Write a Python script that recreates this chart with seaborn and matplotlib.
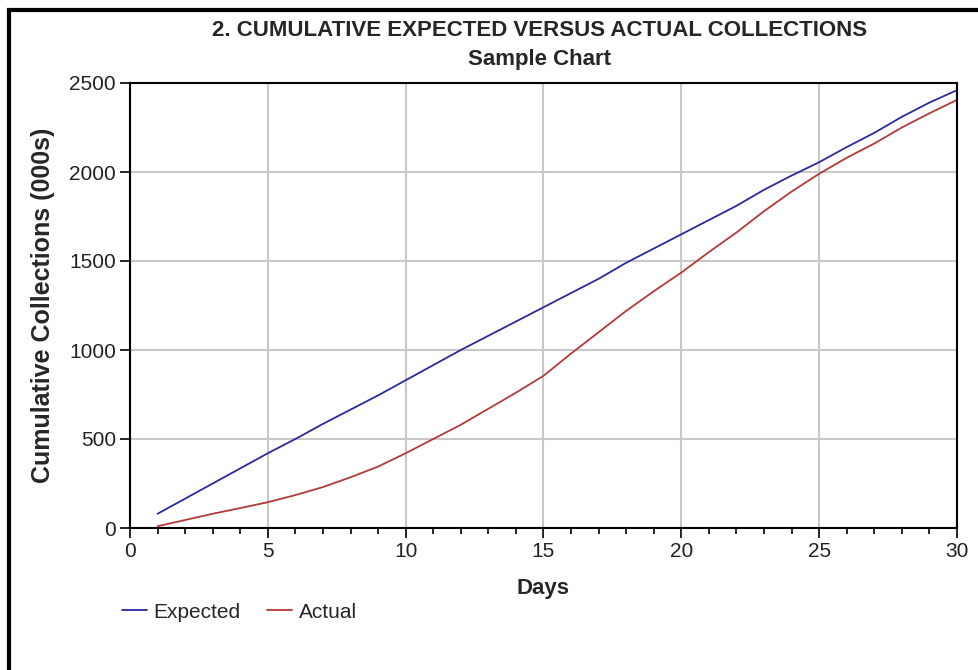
import numpy as np
import pandas as pd
import seaborn as sns
import matplotlib.pyplot as plt
from matplotlib.patches import Rectangle
from matplotlib.ticker import MultipleLocator

# Datos (miles)
days = list(range(1, 31))
expected = [80, 165, 250, 335, 420, 500, 585, 665, 745, 830,
            915, 1000, 1080, 1160, 1240, 1320, 1400, 1490, 1570, 1650,
            1730, 1810, 1900, 1980, 2055, 2140, 2220, 2310, 2390, 2460]
actual = [10, 45, 80, 112, 145, 185, 230, 285, 345, 420,
          500, 580, 670, 760, 855, 980, 1100, 1220, 1330, 1435,
          1550, 1660, 1780, 1890, 1990, 2080, 2160, 2250, 2330, 2405]
series_names = ["Expected", "Actual"]
series_colors = ["#2a2aa0", "#b23a3a"]

df = pd.DataFrame({
    "Days": days * 2,
    "value": expected + actual,
    "serie": [series_names[0]] * len(days) + [series_names[1]] * len(days),
})

sns.set_theme(style="whitegrid")
plt.rcParams['font.family'] = ['Liberation Sans', 'DejaVu Sans']

fig = plt.figure(figsize=(9.79, 6.70), dpi=100)
ax = fig.add_axes([130 / 979, 1 - 528 / 670, (957 - 130) / 979, (528 - 83) / 670])

sns.lineplot(data=df, x="Days", y="value", hue="serie",
             palette=dict(zip(series_names, series_colors)),
             linewidth=1.3, ax=ax, legend=False)

ax.set_xlim(0, 30)
ax.set_ylim(0, 2500)
ax.xaxis.set_major_locator(MultipleLocator(5))
ax.xaxis.set_minor_locator(MultipleLocator(1))
ax.yaxis.set_major_locator(MultipleLocator(500))
ax.grid(True, which="major", color="#c8c8c8", linewidth=1.5)
ax.grid(False, which="minor")
ax.set_facecolor("white")
for s in ax.spines.values():
    s.set_color("black")
    s.set_linewidth(1.5)

ax.tick_params(axis="both", which="major", direction="out", length=7, width=1.2,
               color="black", labelsize=15, labelcolor="#222222", pad=3,
               bottom=True, left=True)
ax.tick_params(axis="x", which="minor", direction="out", length=4, width=1.2,
               color="black", bottom=True)

ax.set_xlabel("Days", fontsize=16, fontweight="bold", labelpad=12)
ax.set_ylabel("Cumulative Collections (000s)", fontsize=18, fontweight="bold", labelpad=10)

fig.text(540 / 979, 1 - 30 / 670, "2. CUMULATIVE EXPECTED VERSUS ACTUAL COLLECTIONS",
         ha="center", va="center", fontsize=16, fontweight="bold")
fig.text(540 / 979, 1 - 59 / 670, "Sample Chart",
         ha="center", va="center", fontsize=16, fontweight="bold")

# leyenda abajo a la izquierda
handles = [plt.Line2D([], [], color=c, linewidth=1.3) for c in series_colors]
fig.legend(handles, series_names, loc="center left",
           bbox_to_anchor=(103 / 979, 1 - 612 / 670), ncol=2, frameon=False,
           fontsize=15, handlelength=1.2, handletextpad=0.3, columnspacing=1.3)

# marco negro de la figura
fig.patches.append(Rectangle((9 / 979, -0.1), 1.2, 1.1 - 10 / 670,
                             transform=fig.transFigure, fill=False,
                             edgecolor="black", linewidth=3))

fig.savefig("out.png", dpi=100)
